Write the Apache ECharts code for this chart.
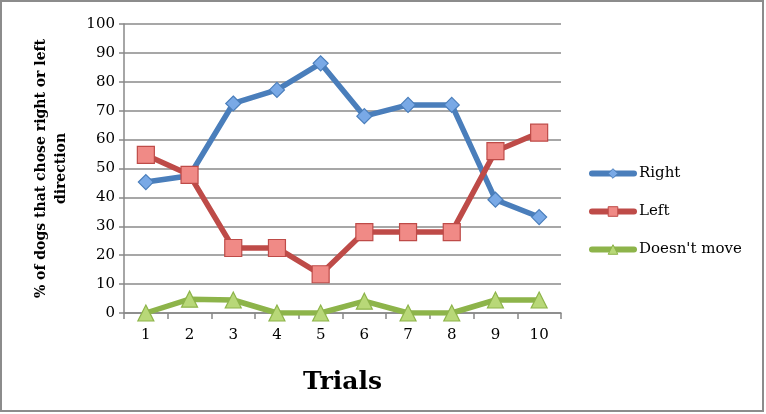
<!DOCTYPE html>
<html><head><meta charset="utf-8">
<script src="https://cdn.jsdelivr.net/npm/echarts@6/dist/echarts.min.js"></script>
<style>html,body{margin:0;padding:0;background:#fff}#c{width:766px;height:414px}</style>
</head><body><div id="c"></div>
<script>
const categories = ['1','2','3','4','5','6','7','8','9','10'];
const rightVals = [45.3, 47.5, 72.5, 77.2, 86.4, 68.1, 72, 72, 39.2, 33.2];
const leftVals = [54.7, 47.8, 22.5, 22.5, 13.4, 28, 28, 28, 56, 62.4];
const stayVals = [0, 4.8, 4.5, 0, 0, 4.1, 0, 0, 4.5, 4.5];
const seriesNames = ['Right', 'Left', "Doesn't move"];
const FONT = 'DejaVu Serif';

const chart = echarts.init(document.getElementById('c'));
function mk(name, data, color, fill, symbol, size){
  return {
    name, type:'line', data, symbol, symbolSize:size,
    lineStyle:{color, width:5.5},
    itemStyle:{color:fill, borderColor:color, borderWidth:1.2},
    emphasis:{disabled:true}, animation:false, z: 3
  };
}
chart.setOption({
  backgroundColor:'#fff',
  animation:false,
  graphic:[{type:'rect', shape:{x:1,y:1,width:762,height:410}, style:{fill:'none', stroke:'#8c8c8c', lineWidth:2}, z:-1}],
  grid:{left:124, right:205, top:24, bottom:101, containLabel:false},
  legend:{
    orient:'vertical', left:584, top:161, itemGap:23, itemWidth:42, itemHeight:12,
    lineStyle:{width:6, cap:'round'},
    itemStyle:{borderWidth:1},
    textStyle:{fontFamily:FONT, fontSize:15, color:'#000'},
    data:seriesNames
  },
  xAxis:{
    type:'category', data:categories, boundaryGap:true,
    axisLine:{lineStyle:{color:'#888', width:1.5}},
    axisTick:{show:true, length:6, lineStyle:{color:'#888', width:1.5}},
    axisLabel:{fontFamily:FONT, fontSize:15, color:'#000', margin:15},
    name:'Trials', nameLocation:'middle', nameGap:57,
    nameTextStyle:{fontFamily:FONT, fontSize:25, fontWeight:'bold', color:'#000'}
  },
  yAxis:{
    type:'value', min:0, max:100, interval:10,
    axisLine:{show:true, lineStyle:{color:'#888', width:1.5}},
    axisTick:{show:true, length:5, lineStyle:{color:'#888', width:1.5}},
    splitLine:{lineStyle:{color:'#8a8a8a', width:1.5}},
    axisLabel:{fontFamily:FONT, fontSize:15, color:'#000', margin:9},
    name:'% of dogs that chose right or left\ndirection', nameLocation:'middle', nameGap:53,
    nameTextStyle:{fontFamily:FONT, fontSize:14, fontWeight:'bold', color:'#000', lineHeight:20}
  },
  series:[
    mk(seriesNames[0], rightVals, '#4a7ebb', '#79a9e6', 'diamond', 15),
    mk(seriesNames[1], leftVals, '#be4b48', '#f08a86', 'rect', 17),
    mk(seriesNames[2], stayVals, '#8db44a', '#b8d878', 'triangle', 16)
  ]
});
</script></body></html>
